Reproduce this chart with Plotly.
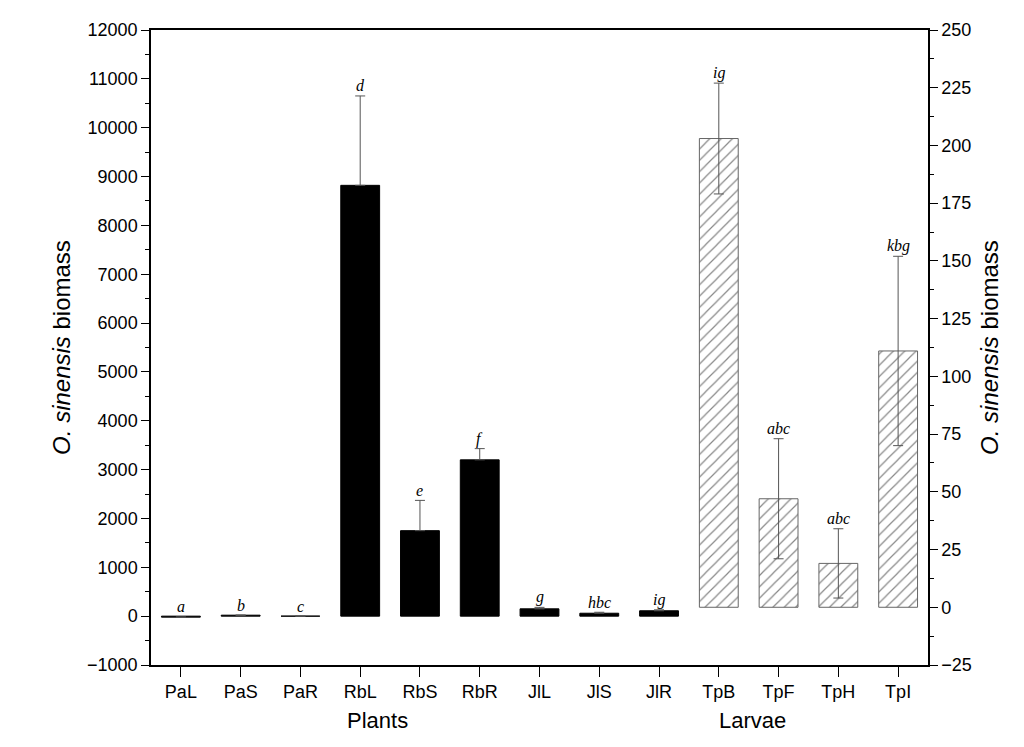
import plotly.graph_objects as go

plant_cats = ["PaL","PaS","PaR","RbL","RbS","RbR","JlL","JlS","JlR"]
plant_vals = [-20, 20, 0, 8820, 1750, 3200, 150, 60, 110]
plant_err = [0, 0, 0, 1830, 620, 230, 30, 20, 20]
plant_sig = ["a","b","c","d","e","f","g","hbc","ig"]
larva_cats = ["TpB","TpF","TpH","TpI"]
larva_vals = [203, 47, 19, 111]
larva_err = [24, 26, 15, 41]
larva_sig = ["ig","abc","abc","kbg"]
all_cats = plant_cats + larva_cats

fig = go.Figure()
fig.add_bar(x=plant_cats, y=plant_vals, marker=dict(color="black", line=dict(color="black", width=1)),
            width=0.65, error_y=dict(type="data", array=plant_err, arrayminus=[0]*len(plant_err),
                                     symmetric=False, color="#555", thickness=1, width=5))
fig.add_bar(x=larva_cats, y=larva_vals, yaxis="y2", width=0.65,
            marker=dict(color="white", line=dict(color="#666", width=1),
                        pattern=dict(shape="/", fgcolor="#888", size=8, solidity=0.15)),
            error_y=dict(type="data", array=larva_err, color="#555", thickness=1, width=5))
for c, v, e, s in zip(plant_cats, plant_vals, plant_err, plant_sig):
    fig.add_annotation(x=c, y=max(v, 0) + e, text=s, yshift=10, showarrow=False,
                       font=dict(family="Liberation Serif", size=16, style="italic"))
for c, v, e, s in zip(larva_cats, larva_vals, larva_err, larva_sig):
    fig.add_annotation(x=c, y=v + e, yref="y2", text=s, yshift=10, showarrow=False,
                       font=dict(family="Liberation Serif", size=16, style="italic"))
fig.add_annotation(x=0.25, y=-0.11, xref="paper", yref="paper", text="Plants", showarrow=False, font=dict(size=22))
fig.add_annotation(x=0.82, y=-0.11, xref="paper", yref="paper", text="Larvae", showarrow=False, font=dict(size=22))

ax = dict(showline=True, linecolor="black", linewidth=1.5, ticks="outside", tickcolor="black",
          showgrid=False, zeroline=False, tickfont=dict(size=18, color="black"))
fig.update_layout(
    width=1024, height=747, template="none", plot_bgcolor="white", paper_bgcolor="white",
    font=dict(family="Arial, Liberation Sans", color="black"), showlegend=False,
    margin=dict(l=143, r=104, t=22, b=90), bargap=0.35,
    xaxis=dict(**ax, categoryorder="array", categoryarray=all_cats, mirror=True, ticklen=10),
    yaxis=dict(**ax, range=[-1000, 12000], dtick=1000, ticklen=8, tickformat="d",
               minor=dict(ticks="outside", ticklen=4, dtick=500, tickcolor="black"),
               title=dict(text="<i>O. sinensis</i> biomass", font=dict(size=24), standoff=10)),
    yaxis2=dict(**ax, overlaying="y", side="right", range=[-25, 250], dtick=25, ticklen=8,
                minor=dict(ticks="outside", ticklen=4, dtick=12.5, tickcolor="black"),
                title=dict(text="<i>O. sinensis</i> biomass", font=dict(size=24), standoff=10)),
)
fig.write_html("out.html")
